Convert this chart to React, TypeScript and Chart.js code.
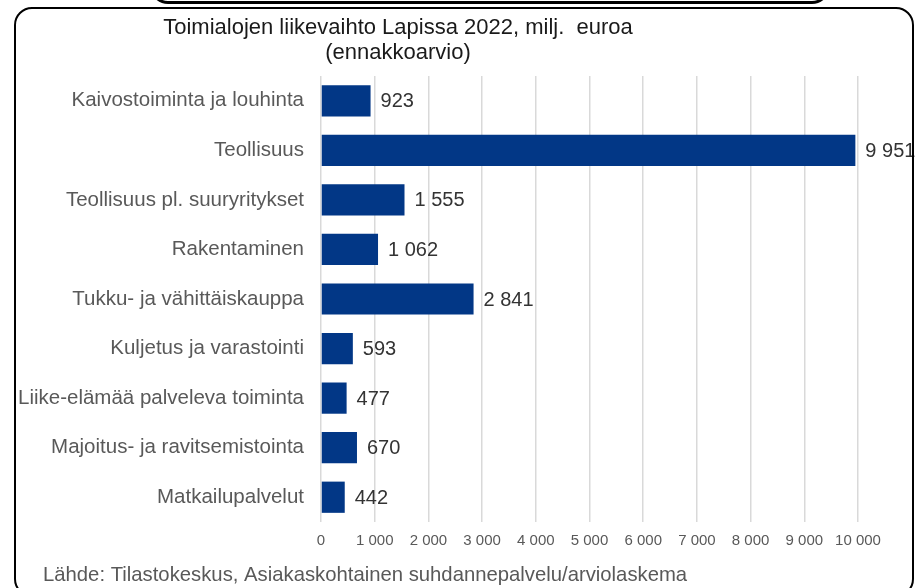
import React, { useEffect, useRef } from "react";
import { Chart, registerables } from "chart.js";

Chart.register(...registerables);

const categories: string[] = [
  "Kaivostoiminta ja louhinta",
  "Teollisuus",
  "Teollisuus pl. suuryritykset",
  "Rakentaminen",
  "Tukku- ja vähittäiskauppa",
  "Kuljetus ja varastointi",
  "Liike-elämää palveleva toiminta",
  "Majoitus- ja ravitsemistointa",
  "Matkailupalvelut",
];

const values: number[] = [923, 9951, 1555, 1062, 2841, 593, 477, 670, 442];

const xMin = 0;
const xMax = 10000;
const xStep = 1000;

const titleLines: string[] = [
  "Toimialojen liikevaihto Lapissa 2022, milj.  euroa",
  "(ennakkoarvio)",
];
const sourceText = "Lähde: Tilastokeskus, Asiakaskohtainen suhdannepalvelu/arviolaskema";

const FONT = '"Liberation Sans", Arial, sans-serif';

const fmt = (v: number) =>
  String(Math.round(v)).replace(/\B(?=(\d{3})+(?!\d))/g, "\u00a0");

export default function App() {
  const ref = useRef<HTMLCanvasElement | null>(null);

  useEffect(() => {
    if (!ref.current) return;

    const valueLabels = {
      id: "valueLabels",
      afterDatasetsDraw(chart: any) {
        const ctx = chart.ctx;
        const meta = chart.getDatasetMeta(0);
        ctx.save();
        ctx.font = `20px ${FONT}`;
        ctx.fillStyle = "#333333";
        ctx.textAlign = "left";
        ctx.textBaseline = "middle";
        meta.data.forEach((bar: any, i: number) => {
          ctx.fillText(fmt(values[i]), bar.x + 10, bar.y + 1);
        });
        ctx.restore();
      },
    };

    const texts = {
      id: "texts",
      afterDraw(chart: any) {
        const ctx = chart.ctx;
        ctx.save();
        ctx.fillStyle = "#1a1a1a";
        ctx.font = `22px ${FONT}`;
        ctx.textAlign = "center";
        ctx.textBaseline = "middle";
        ctx.fillText(titleLines[0], 398, 28);
        ctx.fillText(titleLines[1], 398, 53);
        ctx.font = `20.3px ${FONT}`;
        ctx.fillStyle = "#595959";
        ctx.textAlign = "left";
        ctx.fillText(sourceText, 43, 575);
        ctx.restore();
      },
    };

    const chart = new Chart(ref.current, {
      type: "bar",
      data: {
        labels: categories,
        datasets: [
          {
            data: values,
            backgroundColor: "#023786",
            borderWidth: 0,
            barPercentage: 0.63,
            categoryPercentage: 1,
          },
        ],
      },
      options: {
        indexAxis: "y",
        responsive: false,
        animation: false,
        layout: { padding: { top: 76, right: 57, bottom: 0, left: 0 } },
        plugins: {
          legend: { display: false },
          tooltip: { enabled: false },
          title: { display: false },
        },
        scales: {
          x: {
            min: xMin,
            max: xMax,
            afterFit(scale: any) {
              scale.height = 66;
            },
            grid: { color: "#d9d9d9", lineWidth: 1.5, drawTicks: false },
            border: { display: false },
            ticks: {
              stepSize: xStep,
              padding: 10,
              color: "#595959",
              font: { family: FONT, size: 15 },
              callback: (v: any) => fmt(Number(v)),
            },
          },
          y: {
            afterFit(scale: any) {
              scale.width = 321;
            },
            grid: { display: false, drawTicks: false },
            border: { display: false },
            ticks: {
              padding: 17,
              color: "#595959",
              font: { family: FONT, size: 20.5 },
            },
          },
        },
      },
      plugins: [valueLabels, texts],
    } as any);

    return () => chart.destroy();
  }, []);

  return (
    <div
      style={{
        position: "fixed",
        left: 0,
        top: 0,
        width: 915,
        height: 588,
        background: "#fff",
        overflow: "hidden",
      }}
    >
      <canvas ref={ref} width={915} height={588} style={{ position: "absolute", left: 0, top: 0 }} />
      <div
        style={{
          position: "absolute",
          left: 150,
          top: -40,
          width: 680,
          height: 44,
          border: "3px solid #000",
          borderRadius: 18,
          boxSizing: "border-box",
          pointerEvents: "none",
        }}
      />
      <div
        style={{
          position: "absolute",
          left: 14,
          top: 7,
          width: 900,
          height: 590,
          border: "2px solid #000",
          borderRadius: 18,
          boxSizing: "border-box",
          pointerEvents: "none",
        }}
      />
    </div>
  );
}
